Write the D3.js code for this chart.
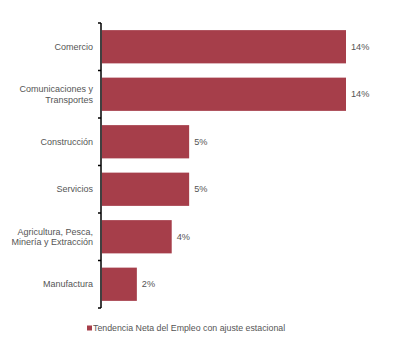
<!DOCTYPE html>
<html>
<head>
<meta charset="utf-8">
<script src="https://cdn.jsdelivr.net/npm/d3@7"></script>
<style>
  body { margin: 0; background: #fff; }
  svg { display: block; font-family: "Liberation Sans", Arial, sans-serif; }
</style>
</head>
<body>
<svg id="chart" width="416" height="354"></svg>
<script>
const categories = [
  ["Comercio"],
  ["Comunicaciones y", "Transportes"],
  ["Construcción"],
  ["Servicios"],
  ["Agricultura, Pesca,", "Minería y Extracción"],
  ["Manufactura"]
];
const values = [14, 14, 5, 5, 4, 2];
const seriesName = "Tendencia Neta del Empleo con ajuste estacional";

const barColor = "#a63e4a";
const textColor = "#555555";

const svg = d3.select("#chart");
const axisX = 101, axisTop = 23, axisBottom = 308;

const x = d3.scaleLinear().domain([0, 14]).range([axisX + 1, 346]);
const y = d3.scaleBand()
  .domain(d3.range(categories.length))
  .range([axisTop, axisBottom])
  .paddingInner(0.3)
  .paddingOuter(0.15);

// bars
svg.append("g")
  .selectAll("rect")
  .data(values)
  .join("rect")
  .attr("x", x(0))
  .attr("y", (d, i) => y(i))
  .attr("width", d => x(d) - x(0))
  .attr("height", y.bandwidth())
  .attr("fill", barColor);

// value labels
svg.append("g")
  .selectAll("text")
  .data(values)
  .join("text")
  .attr("x", d => x(d) + 5)
  .attr("y", (d, i) => y(i) + y.bandwidth() / 2)
  .attr("dy", "0.35em")
  .attr("font-size", 9.2)
  .attr("fill", textColor)
  .text(d => d + "%");

// category labels
const labels = svg.append("g")
  .selectAll("text")
  .data(categories)
  .join("text")
  .attr("x", 93)
  .attr("y", (d, i) => y(i) + y.bandwidth() / 2)
  .attr("text-anchor", "end")
  .attr("font-size", 9)
  .attr("fill", textColor);

labels.selectAll("tspan")
  .data(d => d.map((line, j) => ({ line, j, n: d.length })))
  .join("tspan")
  .attr("x", 93)
  .attr("dy", d => d.j === 0 ? `${0.35 - (d.n - 1) * 0.6}em` : "1.2em")
  .text(d => d.line);

// axis line and boundary ticks
const bounds = d3.range(categories.length + 1)
  .map(i => axisTop + i * (axisBottom - axisTop) / categories.length);
svg.append("line")
  .attr("x1", axisX).attr("x2", axisX)
  .attr("y1", axisTop).attr("y2", axisBottom)
  .attr("stroke", "#000")
  .attr("stroke-width", 1.5);
svg.append("g")
  .selectAll("line")
  .data(bounds)
  .join("line")
  .attr("x1", axisX - 3).attr("x2", axisX)
  .attr("y1", d => d).attr("y2", d => d)
  .attr("stroke", "#000")
  .attr("stroke-width", 1.5);

// legend
const legend = svg.append("g").attr("transform", "translate(87,328)");
legend.append("rect")
  .attr("x", 0).attr("y", -2.5)
  .attr("width", 5).attr("height", 5)
  .attr("fill", barColor);
legend.append("text")
  .attr("x", 6)
  .attr("dy", "0.35em")
  .attr("font-size", 8.8)
  .attr("fill", textColor)
  .text(seriesName);
</script>
</body>
</html>
